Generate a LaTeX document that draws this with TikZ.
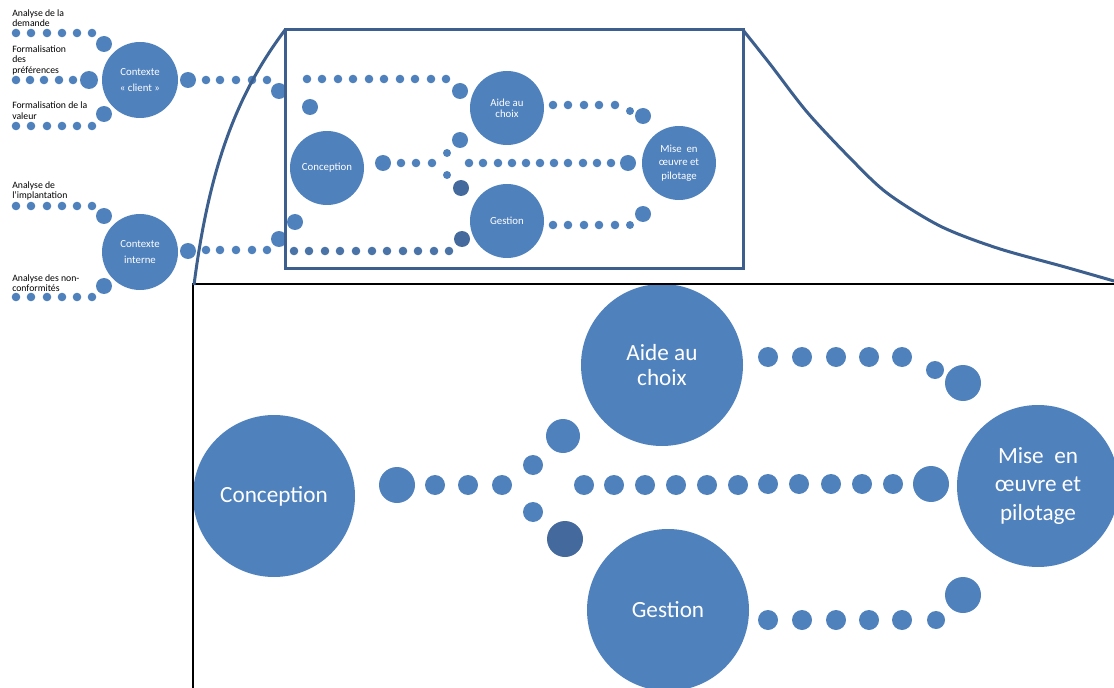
\documentclass[tikz,border=0pt]{standalone}
\usepackage{fontspec}
\setmainfont{Carlito}
\usepackage{tikz}
\definecolor{dotblue}{HTML}{4F81BD}
\definecolor{darkdot}{HTML}{44699C}
\definecolor{rowdot}{HTML}{4A74A8}
\definecolor{framec}{HTML}{3C5F8E}

\begin{document}
\begin{tikzpicture}[x=0.75pt,y=-0.75pt]
\tikzset{
  bubble/.style={circle,fill=dotblue,text=white,inner sep=0pt,align=center},
  smallbub/.style={bubble,minimum size=55.5pt,font=\fontsize{8.1}{8.25}\selectfont},
  ctxbub/.style={bubble,minimum size=57pt,font=\fontsize{8.1}{12}\selectfont},
  largebub/.style={bubble,minimum size=121.5pt,font=\fontsize{17.4}{19}\selectfont},
  sidelabel/.style={anchor=west,inner sep=0pt,align=left,font=\fontsize{7.3}{7.9}\selectfont},
  framec/.style={draw=framec,line width=2.25pt}
}
\useasboundingbox (0,0) rectangle (1114,688);

% labels on the left
\node[sidelabel] (ldemande) at (12,18) {Analyse de la\\demande};
\node[sidelabel] (lpref) at (12,60) {Formalisation\\des\\préférences};
\node[sidelabel] (lvaleur) at (12,110.5) {Formalisation de la\\valeur};
\node[sidelabel] (limplant) at (12,191) {Analyse de\\l’implantation};
\node[sidelabel] (lnonconf) at (12,283) {Analyse des non-\\conformités};

% contexts
\node[ctxbub] (ctxclient) at (140,80) {Contexte\\« client »};
\node[ctxbub] (ctxint) at (140,252) {Contexte\\interne};

% small view
\node[smallbub] (conc) at (327,168) {Conception};
\node[smallbub] (aide) at (507,108) {Aide au\\choix};
\node[smallbub] (gest) at (507,221) {Gestion};
\node[smallbub,font=\fontsize{8.1}{10}\selectfont] (mise) at (679,163) {Mise\ \ en\\œuvre et\\pilotage};

% large view
\node[largebub] (bconc) at (274,496) {Conception};
\node[largebub] (baide) at (662,365) {Aide au\\choix};
\node[largebub] (bgest) at (668,610) {Gestion};
\node[largebub,font=\fontsize{17.4}{21.4}\selectfont] (bmise) at (1038,486) {Mise\ \ en\\œuvre et\\pilotage};

% dots, left side
\fill[dotblue] (16,33) circle (4.3) (31,33) circle (4.3) (47,33) circle (4.3) (62,33) circle (4.3) (77,33) circle (4.3) (92,33) circle (4.3) (104,44) circle (8);
\fill[dotblue] (16,80) circle (4.3) (30,80) circle (4.3) (44,80) circle (4.3) (59,80) circle (4.3) (73,80) circle (4.3) (89,80) circle (9);
\fill[dotblue] (16,126) circle (4.3) (31,126) circle (4.3) (47,126) circle (4.3) (62,126) circle (4.3) (77,126) circle (4.3) (92,126) circle (4.3) (104,114) circle (8);
\fill[dotblue] (16,206) circle (4.3) (31,206) circle (4.3) (47,206) circle (4.3) (62,206) circle (4.3) (77,206) circle (4.3) (92,206) circle (4.3) (104,216) circle (8);
\fill[dotblue] (16,297) circle (4.3) (31,297) circle (4.3) (47,297) circle (4.3) (62,297) circle (4.3) (77,297) circle (4.3) (92,297) circle (4.3) (104,286) circle (8);
\fill[dotblue] (188,80) circle (8) (206,80) circle (4.3) (220,80) circle (4.3) (236,80) circle (4.3) (252,80) circle (4.3) (267,80) circle (4.3) (279,91) circle (8);
\fill[dotblue] (188,251) circle (8) (206,250) circle (4.3) (220,250) circle (4.3) (236,250) circle (4.3) (252,250) circle (4.3) (267,250) circle (4.3) (279,239) circle (8);

% dots, small view
\fill[dotblue] (307,79) circle (4.3) (322,79) circle (4.3) (338,79) circle (4.3) (353,79) circle (4.3) (369,79) circle (4.3) (384,79) circle (4.3) (400,79) circle (4.3) (415,79) circle (4.3) (431,79) circle (4.3) (446,79) circle (4.3) (460,91) circle (8);
\fill[dotblue] (310,107) circle (8) (295,222) circle (8);
\fill[rowdot] (294,251) circle (4.3) (309,251) circle (4.3) (325,251) circle (4.3) (340,251) circle (4.3) (356,251) circle (4.3) (372,251) circle (4.3) (387,251) circle (4.3) (403,251) circle (4.3) (418,251) circle (4.3) (434,251) circle (4.3) (449,251) circle (4.3);
\fill[darkdot] (462,239) circle (8) (461,188) circle (8);
\fill[dotblue] (383,163) circle (8) (401,163) circle (4.3) (416,163) circle (4.3) (432,163) circle (4.3) (447,153) circle (4) (447,175) circle (4) (460,140) circle (8);
\fill[dotblue] (469,163) circle (4.3) (483,163) circle (4.3) (498,163) circle (4.3) (512,163) circle (4.3) (526,163) circle (4.3) (540,163) circle (4.3) (554,163) circle (4.3) (568,163) circle (4.3) (583,163) circle (4.3) (597,163) circle (4.3) (611,163) circle (4.3) (628,163) circle (8);
\fill[dotblue] (553,105) circle (4.3) (568,105) circle (4.3) (584,105) circle (4.3) (599,105) circle (4.3) (615,105) circle (4.3) (630,111) circle (4) (643,116) circle (8);
\fill[dotblue] (553,225) circle (4.3) (568,225) circle (4.3) (584,225) circle (4.3) (599,225) circle (4.3) (615,225) circle (4.3) (630,225) circle (4) (643,214) circle (8);

% dots, large view
\fill[dotblue] (397,485) circle (18) (435,485) circle (10) (468,485) circle (10) (502,485) circle (10) (533,465) circle (10) (533,512) circle (10) (563,436) circle (17);
\fill[darkdot] (565,539) circle (18);
\fill[dotblue] (584,485) circle (10) (614,485) circle (10) (645,485) circle (10) (676,485) circle (10) (707,485) circle (10) (738,485) circle (10) (768,484) circle (10) (799,484) circle (10) (831,484) circle (10) (862,484) circle (10) (893,484) circle (10) (931,484) circle (18);
\fill[dotblue] (768,357) circle (10) (802,357) circle (10) (836,357) circle (10) (869,357) circle (10) (902,357) circle (10) (935,370) circle (9) (963,383) circle (18);
\fill[dotblue] (768,620) circle (10) (802,620) circle (10) (836,620) circle (10) (869,620) circle (10) (902,620) circle (10) (936,620) circle (9) (963,595) circle (18);

% frames
\draw[line width=1pt] (193,688) -- (193,284) -- (1114,284);
\draw[framec] (285,30) rectangle (743,268);
\draw[framec] (194,285) .. controls (210,160) and (240,90) .. (285,30);
\draw[framec] plot[smooth] coordinates {(743,30) (770,64) (807,112) (850,158) (887,193) (940,226) (997,248) (1065,267) (1114,281)};
\end{tikzpicture}
\end{document}
